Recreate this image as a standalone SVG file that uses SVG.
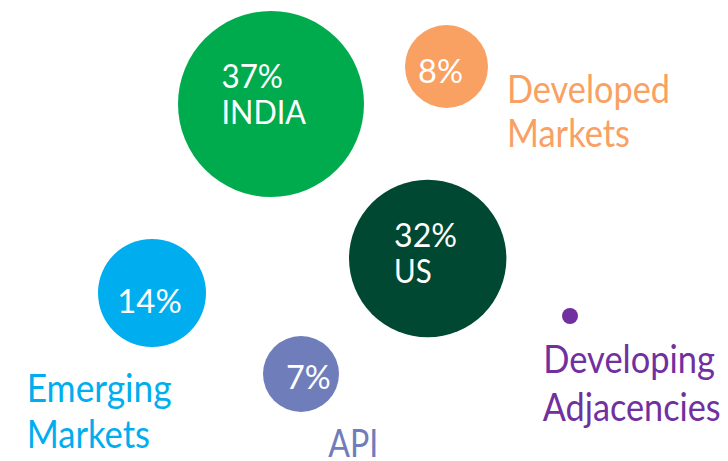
<svg xmlns="http://www.w3.org/2000/svg" width="728" height="461" viewBox="0 0 728 461">
<style>
text{font-family:Lato,"Liberation Sans",sans-serif;}
.pct{fill:#ffffff;font-size:33px;}
.lbl{font-size:38px;}
</style>
<rect width="728" height="461" fill="#ffffff"/>
<g id="connectors"/>
<g id="india">
<circle cx="271" cy="104" r="93" fill="#00AB4E"/>
<text class="pct" x="221.5" y="88.3" textLength="61.5" lengthAdjust="spacingAndGlyphs">37%</text>
<text class="pct" x="221.5" y="124" textLength="84.5" lengthAdjust="spacingAndGlyphs">INDIA</text>
</g>
<g id="developed-markets">
<circle cx="446.5" cy="66.5" r="41.5" fill="#F9A063"/>
<text class="pct" x="418" y="83.3" font-size="34" textLength="45" lengthAdjust="spacingAndGlyphs">8%</text>
<text class="lbl" x="507" y="103.3" fill="#F9A063" textLength="163" lengthAdjust="spacingAndGlyphs">Developed</text>
<text class="lbl" x="507" y="146.7" fill="#F9A063" textLength="123" lengthAdjust="spacingAndGlyphs">Markets</text>
</g>
<g id="us">
<circle cx="427.7" cy="258.5" r="78.7" fill="#004832"/>
<text class="pct" x="394" y="247.3" textLength="63" lengthAdjust="spacingAndGlyphs">32%</text>
<text class="pct" x="394" y="282.7" textLength="37.7" lengthAdjust="spacingAndGlyphs">US</text>
</g>
<g id="emerging-markets">
<circle cx="152" cy="293" r="54" fill="#00AEEF"/>
<text class="pct" x="117.3" y="313.3" font-size="34" textLength="64.4" lengthAdjust="spacingAndGlyphs">14%</text>
<text class="lbl" x="26.7" y="401.7" fill="#00AEEF" textLength="145" lengthAdjust="spacingAndGlyphs">Emerging</text>
<text class="lbl" x="26.7" y="448.3" fill="#00AEEF" textLength="123.3" lengthAdjust="spacingAndGlyphs">Markets</text>
</g>
<g id="api">
<circle cx="301" cy="374" r="38" fill="#6F7DBB"/>
<text class="pct" x="286" y="389.3" font-size="34" textLength="44.7" lengthAdjust="spacingAndGlyphs">7%</text>
<text class="lbl" x="328.3" y="457" fill="#6F7DBB" textLength="50" lengthAdjust="spacingAndGlyphs">API</text>
</g>
<g id="developing-adjacencies">
<circle cx="570" cy="316" r="8" fill="#7030A0"/>
<text class="lbl" x="543.3" y="373.3" fill="#7030A0" textLength="171.7" lengthAdjust="spacingAndGlyphs">Developing</text>
<text class="lbl" x="542.7" y="420.7" fill="#7030A0" textLength="178" lengthAdjust="spacingAndGlyphs">Adjacencies</text>
</g>
</svg>
